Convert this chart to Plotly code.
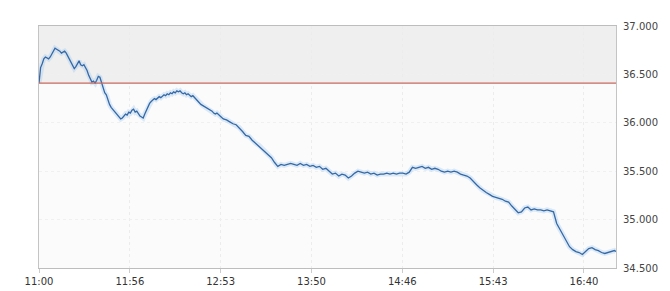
import plotly.graph_objects as go

times = [
"11:00","11:01","11:02","11:03","11:04","11:05","11:06","11:07","11:08","11:09",
"11:10","11:11","11:12","11:13","11:14","11:15","11:16","11:17","11:18","11:19",
"11:20","11:21","11:22","11:23","11:24","11:25","11:26","11:27","11:28","11:29",
"11:30","11:31","11:32","11:33","11:34","11:35","11:36","11:37","11:38","11:39",
"11:40","11:41","11:42","11:43","11:44","11:45","11:46","11:47","11:48","11:49",
"11:50","11:51","11:52","11:53","11:54","11:55","11:56","11:57","11:58","11:59",
"12:00","12:01","12:02","12:03","12:04","12:05","12:06","12:07","12:08","12:09",
"12:10","12:11","12:12","12:13","12:14","12:15","12:16","12:17","12:18","12:19",
"12:20","12:21","12:22","12:23","12:24","12:25","12:26","12:27","12:28","12:29",
"12:30","12:31","12:32","12:33","12:34","12:35","12:36","12:37","12:38","12:39",
"12:40","12:41","12:42","12:43","12:44","12:45","12:46","12:47","12:48","12:49",
"12:50","12:51","12:52","12:53","12:55","12:57","12:59","13:01","13:03","13:05",
"13:07","13:09","13:11","13:13","13:15","13:17","13:19","13:21","13:23","13:25",
"13:27","13:29","13:31","13:33","13:35","13:37","13:39","13:41","13:43","13:45",
"13:47","13:49","13:51","13:53","13:55","13:57","13:59","14:01","14:03","14:05",
"14:07","14:09","14:11","14:13","14:15","14:17","14:19","14:21","14:23","14:25",
"14:27","14:29","14:31","14:33","14:35","14:37","14:39","14:41","14:43","14:45",
"14:47","14:49","14:51","14:53","14:55","14:57","14:59","15:01","15:03","15:05",
"15:07","15:09","15:11","15:13","15:15","15:17","15:19","15:21","15:23","15:25",
"15:27","15:29","15:31","15:33","15:35","15:37","15:39","15:41","15:43","15:45",
"15:47","15:49","15:51","15:53","15:55","15:57","15:59","16:01","16:03","16:05",
"16:07","16:09","16:11","16:13","16:15","16:17","16:19","16:21","16:23","16:25",
"16:27","16:29","16:31","16:33","16:35","16:37","16:39","16:41","16:43","16:45",
"16:47","16:49","16:51","16:53","16:55","16:57","16:59","17:00"]

values = [
36410,36570,36610,36660,36680,36670,36660,36680,36710,36750,
36770,36760,36750,36740,36720,36730,36740,36720,36690,36650,
36620,36590,36560,36580,36620,36640,36600,36590,36600,36570,
36540,36490,36460,36420,36430,36410,36440,36480,36470,36410,
36360,36310,36290,36230,36190,36160,36140,36120,36110,36080,
36060,36040,36050,36070,36090,36080,36110,36100,36130,36140,
36110,36120,36090,36070,36060,36050,36090,36130,36170,36200,
36220,36240,36250,36240,36260,36270,36260,36280,36290,36280,
36300,36290,36310,36300,36320,36310,36330,36320,36330,36310,
36300,36310,36290,36300,36280,36270,36280,36260,36240,36220,
36210,36190,36180,36170,36160,36150,36140,36130,36120,36100,
36090,36100,36080,36070,36040,36030,36010,35990,35980,35950,
35910,35870,35860,35820,35790,35770,35740,35710,35680,35640,
35590,35550,35570,35560,35570,35580,35570,35560,35580,35560,
35570,35550,35560,35540,35550,35520,35530,35500,35470,35480,
35450,35470,35460,35430,35450,35480,35500,35490,35480,35490,
35470,35480,35460,35470,35470,35480,35470,35480,35470,35480,
35480,35470,35490,35540,35530,35540,35550,35530,35540,35520,
35530,35520,35500,35490,35500,35490,35500,35490,35470,35460,
35450,35430,35390,35360,35330,35300,35280,35260,35240,35230,
35220,35210,35190,35180,35140,35100,35070,35080,35120,35130,
35100,35110,35100,35100,35090,35100,35090,35080,34960,34900,
34830,34770,34720,34690,34670,34660,34640,34670,34700,34710,
34690,34680,34660,34650,34660,34670,34680,34670]

prev_close = 36410

x_tick_labels = ["11:00","11:56","12:53","13:50","14:46","15:43","16:40"]
y_tick_vals = [34500, 35000, 35500, 36000, 36500, 37000]
y_tick_text = ["34.500", "35.000", "35.500", "36.000", "36.500", "37.000"]

def to_min(t):
    h, m = t.split(":")
    return (int(h) - 11) * 60 + int(m)

xs = [to_min(t) for t in times]
x_tick_vals = [0, 56.67, 113.33, 170, 226.67, 283.33, 340]

fig = go.Figure()
fig.add_trace(go.Scatter(x=xs, y=values, mode="lines",
                         line=dict(color="rgba(160,200,235,0.35)", width=5),
                         hoverinfo="skip", showlegend=False))
fig.add_trace(go.Scatter(x=xs, y=values, mode="lines",
                         line=dict(color="#3568a8", width=1.3),
                         showlegend=False))

fig.add_shape(type="rect", xref="x", yref="y", x0=0, x1=360, y0=prev_close, y1=37000,
              fillcolor="#efefef", line=dict(width=0), layer="below")
fig.add_shape(type="line", xref="x", yref="y", x0=0, x1=360, y0=prev_close, y1=prev_close,
              line=dict(color="#c8685c", width=1.3), layer="above")

fig.update_layout(
    width=670, height=291,
    margin=dict(l=31, r=62, t=16, b=26),
    paper_bgcolor="white",
    plot_bgcolor="#fbfbfb",
    font=dict(family="DejaVu Sans", size=10, color="#444444"),
    xaxis=dict(range=[0, 360], tickvals=x_tick_vals, ticktext=x_tick_labels,
               showgrid=True, gridcolor="#ececec", griddash="dot", gridwidth=1,
               showline=True, linecolor="#bdbdbd", mirror=True,
               ticks="outside", ticklen=4, tickcolor="#cccccc",
               tickfont=dict(size=10, color="#333333"), zeroline=False, fixedrange=True),
    yaxis=dict(range=[34500, 37000], side="right", tickvals=y_tick_vals, ticktext=y_tick_text,
               showgrid=True, gridcolor="#f0f0f0", griddash="dot", gridwidth=1,
               showline=True, linecolor="#c4c4c4", mirror=True,
               ticks="", ticklabelstandoff=4,
               tickfont=dict(size=10, color="#444444"), zeroline=False, fixedrange=True),
)

fig.write_html("out.html")
